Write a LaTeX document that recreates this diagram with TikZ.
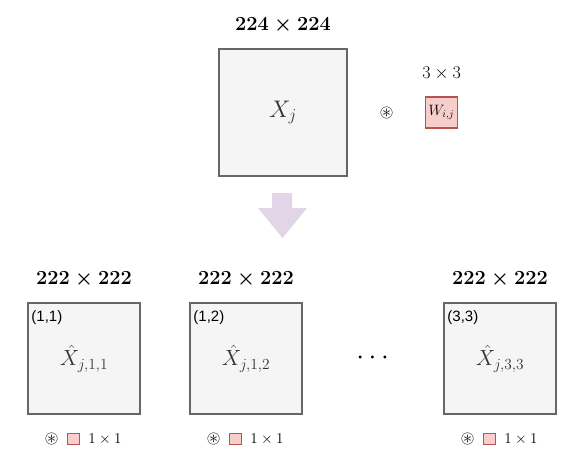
\RequirePackage{fix-cm}
\documentclass[tikz,border=0pt]{standalone}
\usepackage{amsmath,amssymb}
\usepackage{graphicx}
\usepackage{fontspec}
\newfontfamily\labsans{Liberation Sans}
\definecolor{boxfill}{HTML}{F5F5F5}
\definecolor{boxdraw}{HTML}{666666}
\definecolor{boxtext}{HTML}{333333}
\definecolor{wfill}{HTML}{F8CECC}
\definecolor{wdraw}{HTML}{B85450}
\definecolor{arrowfill}{HTML}{E1D5E7}
\newcommand{\convop}{\scalebox{1.8}{$\circledast$}}
\begin{document}
\begin{tikzpicture}[x=1pt,y=-1pt,
  bigbox/.style={draw=boxdraw,fill=boxfill,line width=1.5pt,inner sep=0pt,text=boxtext},
  wbox/.style={draw=wdraw,fill=wfill,line width=1.2pt,inner sep=0pt},
  sizelab/.style={font=\fontsize{20}{24}\selectfont\boldmath,inner sep=0pt},
  smalllab/.style={font=\fontsize{18}{22}\selectfont,inner sep=0pt},
  corner/.style={font=\fontsize{15}{18}\selectfont\labsans,inner sep=0pt,anchor=west},
  oplab/.style={font=\fontsize{10}{12}\selectfont,inner sep=0pt},
  tinylab/.style={font=\fontsize{15}{18}\selectfont,inner sep=0pt}
]
\useasboundingbox (0,0) rectangle (581,467);
% top
\node[bigbox,minimum width=128pt,minimum height=127pt,font=\fontsize{24}{28}\selectfont] (xj) at (283,112.5) {$X_j$};
\node[sizelab] (l224) at (283,25) {$224\times224$};
\node[oplab] (conv) at (386.5,112.5) {\convop};
\node[wbox,minimum width=32pt,minimum height=31pt,font=\fontsize{15}{18}\selectfont] (w) at (441.5,112.5) {$W_{i,j}$};
\node[smalllab] (l33) at (441.5,73) {$3\times3$};
% arrow
\fill[arrowfill] (272,193) -- (292,193) -- (292,208) -- (307,208) -- (282.5,238) -- (258,208) -- (272,208) -- cycle;
% bottom boxes
\foreach \name/\cx/\lab/\sub in {b1/84/{(1,1)}/{j,1,1}, b2/246/{(1,2)}/{j,1,2}, b3/500/{(3,3)}/{j,3,3}} {
  \node[bigbox,minimum width=112pt,minimum height=111pt,font=\fontsize{22}{26}\selectfont] (\name) at (\cx,358.5) {$\hat{X}_{\sub}$};
  \node[sizelab] (\name-size) at (\cx,279) {$222\times222$};
  \node[corner] (\name-corner) at ([xshift=4pt,yshift=-15pt]\name.north west) {\lab};
  \node[oplab] (\name-op) at (\cx-32.5,439) {\convop};
  \node[wbox,line width=0.9pt,minimum width=12pt,minimum height=11pt] (\name-k) at (\cx-11,438.5) {};
  \node[tinylab] (\name-k-lab) at (\cx+21,439) {$1\times1$};
}
\node[font=\fontsize{28}{32}\selectfont,inner sep=0pt] (dots) at (375,358) {$\cdots$};
\end{tikzpicture}
\end{document}
